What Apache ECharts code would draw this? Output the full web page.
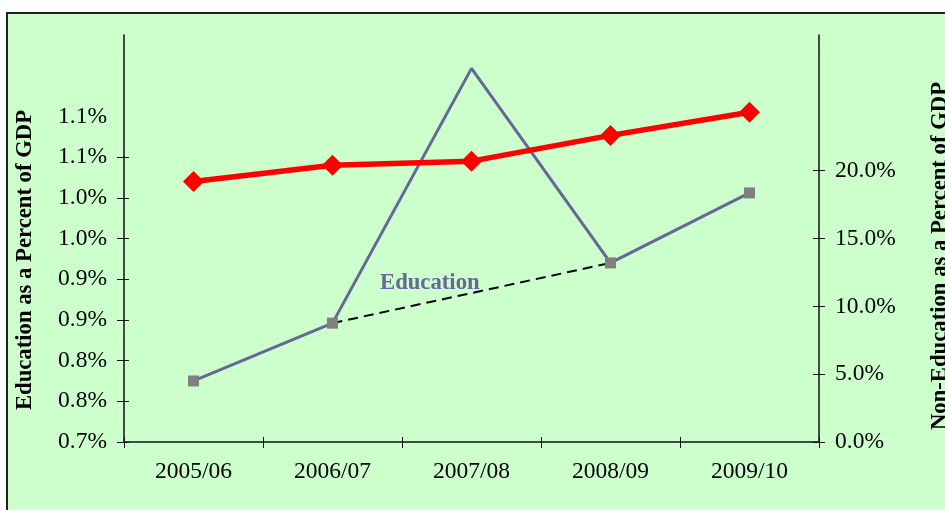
<!DOCTYPE html>
<html>
<head>
<meta charset="utf-8">
<script src="https://cdn.jsdelivr.net/npm/echarts@6/dist/echarts.min.js"></script>
<style>
  html, body { margin: 0; padding: 0; background: #ffffff; }
  #chart { width: 945px; height: 510px; }
</style>
</head>
<body>
<div id="chart"></div>
<script>
// Fiscal years on the horizontal axis
const years = ['2005/06', '2006/07', '2007/08', '2008/09', '2009/10'];

// Education spending, percent of GDP (left axis)
const education = [0.775, 0.846, 1.159, 0.920, 1.006];

// Non-education spending, percent of GDP (right axis)
const nonEducation = [19.2, 20.4, 20.7, 22.6, 24.3];

// Left axis tick values and their printed labels
const leftTickValues = [0.70, 0.75, 0.80, 0.85, 0.90, 0.95, 1.00, 1.05, 1.10];
const leftTickLabels = ['0.7%', '0.8%', '0.8%', '0.9%', '0.9%', '1.0%', '1.0%', '1.1%', '1.1%'];

// Right axis tick values and their printed labels
const rightTickValues = [0, 5, 10, 15, 20];
const rightTickLabels = ['0.0%', '5.0%', '10.0%', '15.0%', '20.0%'];

// Dashed trend link between the 2006/07 and 2008/09 education points
const educationTrend = [null, education[1], null, education[3], null];

const FONT = "'Liberation Serif', 'Times New Roman', serif";
const AXIS_COLOR = '#111';
const LABEL_SIZE = 23.5;
const TITLE_FONT = "bold 22.7px " + FONT;

function leftLabel(v) {
  const i = leftTickValues.findIndex(t => Math.abs(t - v) < 1e-6);
  return i >= 0 ? leftTickLabels[i] : '';
}
function rightLabel(v) {
  const i = rightTickValues.findIndex(t => Math.abs(t - v) < 1e-6);
  return i >= 0 ? rightTickLabels[i] : '';
}

const chart = echarts.init(document.getElementById('chart'), null, { renderer: 'canvas' });

const leftScale = { min: 0.7, max: 1.2, interval: 0.05 };
const rightScale = { min: 0, max: 30, interval: 5 };

chart.setOption({
  animation: false,
  backgroundColor: '#ffffff',
  grid: { left: 124, right: 126, top: 35, bottom: 68, containLabel: false },
  graphic: [
    {
      type: 'rect', z: -10, silent: true,
      shape: { x: 7, y: 13, width: 960, height: 520 },
      style: { fill: '#CCFFCC', stroke: '#222', lineWidth: 2 }
    },
    {
      type: 'text', z: 100, silent: true,
      x: 25, y: 260, rotation: Math.PI / 2,
      style: {
        text: 'Education as a Percent of GDP',
        font: TITLE_FONT, fill: '#000',
        align: 'center', verticalAlign: 'middle'
      }
    },
    {
      type: 'text', z: 100, silent: true,
      x: 940, y: 256, rotation: Math.PI / 2,
      style: {
        text: 'Non-Education as a Percent of GDP',
        font: TITLE_FONT, fill: '#000',
        align: 'center', verticalAlign: 'middle'
      }
    },
    {
      type: 'text', z: 100, silent: true,
      x: 380, y: 283,
      style: {
        text: 'Education',
        font: TITLE_FONT, fill: '#666699',
        align: 'left', verticalAlign: 'middle'
      }
    }
  ],
  xAxis: [
    {
      type: 'category', data: years, position: 'bottom', boundaryGap: true,
      axisLine: { show: true, lineStyle: { color: AXIS_COLOR, width: 1.5 } },
      axisTick: { show: true, inside: false, length: 6, interval: 0, lineStyle: { color: AXIS_COLOR, width: 1 } },
      axisLabel: { show: true, margin: 18, color: '#000', fontFamily: FONT, fontSize: LABEL_SIZE, interval: 0 },
      splitLine: { show: false }
    },
    {
      type: 'category', data: years, position: 'bottom', boundaryGap: true, offset: 0,
      axisLine: { show: false },
      axisTick: { show: true, inside: true, length: 5, interval: 0, lineStyle: { color: AXIS_COLOR, width: 1 } },
      axisLabel: { show: false },
      splitLine: { show: false }
    }
  ],
  yAxis: [
    {
      type: 'value', position: 'left', ...leftScale,
      axisLine: { show: true, lineStyle: { color: AXIS_COLOR, width: 1.5 } },
      axisTick: { show: true, inside: false, length: 7, customValues: leftTickValues.slice(0, 8), lineStyle: { color: AXIS_COLOR, width: 1 } },
      axisLabel: { show: true, margin: 17, color: '#000', fontFamily: FONT, fontSize: LABEL_SIZE, customValues: leftTickValues, formatter: leftLabel },
      splitLine: { show: false }
    },
    {
      type: 'value', position: 'right', ...rightScale,
      axisLine: { show: true, lineStyle: { color: AXIS_COLOR, width: 1.5 } },
      axisTick: { show: true, inside: false, length: 6, customValues: rightTickValues, lineStyle: { color: AXIS_COLOR, width: 1 } },
      axisLabel: { show: true, margin: 16, color: '#000', fontFamily: FONT, fontSize: LABEL_SIZE, customValues: rightTickValues, formatter: rightLabel },
      splitLine: { show: false }
    },
    {
      type: 'value', position: 'left', offset: 0, ...leftScale,
      axisLine: { show: false },
      axisTick: { show: true, inside: true, length: 5, customValues: leftTickValues.slice(0, 8), lineStyle: { color: AXIS_COLOR, width: 1 } },
      axisLabel: { show: false },
      splitLine: { show: false }
    },
    {
      type: 'value', position: 'right', offset: 0, ...rightScale,
      axisLine: { show: false },
      axisTick: { show: true, inside: true, length: 6, customValues: rightTickValues, lineStyle: { color: AXIS_COLOR, width: 1 } },
      axisLabel: { show: false },
      splitLine: { show: false }
    }
  ],
  series: [
    {
      name: 'Education trend', type: 'line', yAxisIndex: 0, z: 2,
      data: educationTrend, connectNulls: true, showSymbol: false, symbol: 'none',
      lineStyle: { color: '#000', width: 2, type: [10, 6] }
    },
    {
      name: 'Education', type: 'line', yAxisIndex: 0, z: 3,
      data: education.map((v, i) => i === 2 ? { value: v, symbol: 'none' } : v),
      symbol: 'rect', symbolSize: 11, showAllSymbol: true,
      lineStyle: { color: '#666699', width: 3 },
      itemStyle: { color: '#808080' }
    },
    {
      name: 'Non-Education', type: 'line', yAxisIndex: 1, z: 4,
      data: nonEducation,
      symbol: 'diamond', symbolSize: 21, showAllSymbol: true,
      lineStyle: { color: '#FF0000', width: 5.5 },
      itemStyle: { color: '#FF0000' }
    }
  ]
});
</script>
</body>
</html>
